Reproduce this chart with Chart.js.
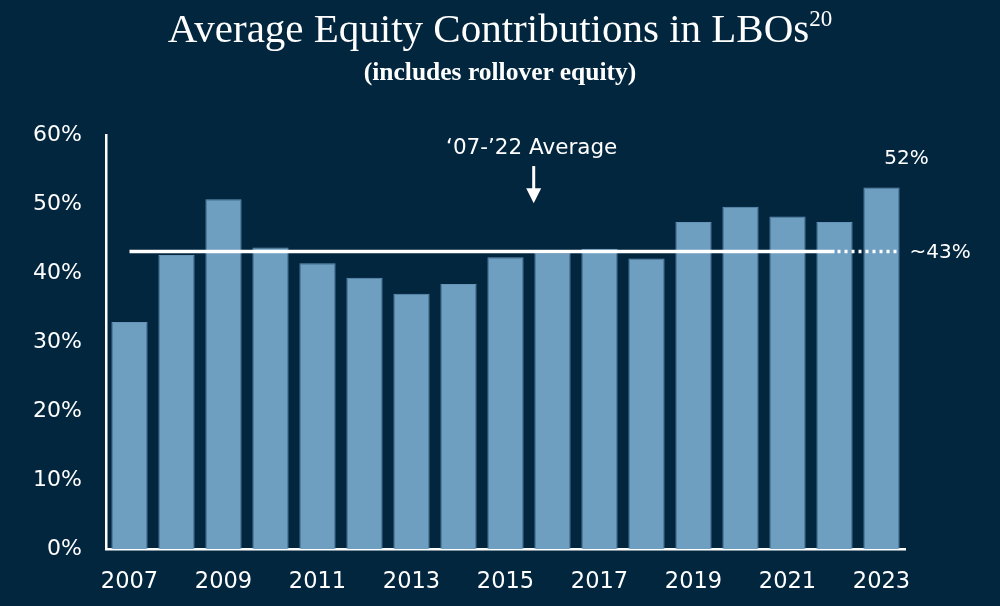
<!DOCTYPE html>
<html lang="en">
<head>
    <meta charset="UTF-8">
    <title>Average Equity Contributions in LBOs</title>
    <script src="https://cdn.jsdelivr.net/npm/chart.js@4.4.1/dist/chart.umd.min.js"></script>
    <style>
        html, body {
            margin: 0;
            padding: 0;
            background-color: #03263f;
        }
        #wrap {
            position: relative;
            width: 1000px;
            height: 606px;
        }
        #title {
            position: absolute;
            top: 4px;
            left: 0;
            width: 1000px;
            text-align: center;
            color: #ffffff;
            font-family: "Liberation Serif", serif;
            font-size: 41px;
        }
        #title sup {
            font-size: 23px;
            vertical-align: 16px;
            line-height: 0;
        }
        #subtitle {
            position: absolute;
            top: 57px;
            left: 0;
            width: 1000px;
            text-align: center;
            color: #ffffff;
            font-family: "Liberation Serif", serif;
            font-weight: bold;
            font-size: 25.5px;
        }
        #chart {
            position: absolute;
            top: 0;
            left: 0;
        }
    </style>
</head>
<body>
<div id="wrap">
    <canvas id="chart" width="1000" height="606"></canvas>
    <div id="title">Average Equity Contributions in LBOs<sup>20</sup></div>
    <div id="subtitle">(includes rollover equity)</div>
</div>

<script>
    // Data (percent)
    const years = ['2007', '2008', '2009', '2010', '2011', '2012', '2013', '2014', '2015',
                   '2016', '2017', '2018', '2019', '2020', '2021', '2022', '2023'];
    const equityShare = [32.9, 42.6, 50.7, 43.7, 41.4, 39.3, 37.0, 38.4, 42.3,
                         43.0, 43.5, 42.1, 47.4, 49.6, 48.2, 47.4, 52.4];
    const averageValue = 43.1;   // '07-'22 average
    const yTicks = [0, 10, 20, 30, 40, 50, 60];

    const barColor = '#6e9ec0';
    const white = '#ffffff';
    const labelFont = '"DejaVu Sans", sans-serif';

    // Average line, arrow and call-out labels
    const annotations = {
        id: 'annotations',
        afterDatasetsDraw(chart) {
            const ctx = chart.ctx;
            const x = chart.scales.x;
            const y = chart.scales.y;
            const yAvg = y.getPixelForValue(averageValue);
            const last = years.length - 1;
            const barHalf = (x.getPixelForValue(1) - x.getPixelForValue(0)) * 0.77 / 2;

            ctx.save();
            ctx.strokeStyle = white;
            ctx.lineWidth = 3.5;

            // solid part over '07-'22
            ctx.beginPath();
            ctx.moveTo(x.getPixelForValue(0), yAvg);
            ctx.lineTo(x.getPixelForValue(last - 1), yAvg);
            ctx.stroke();

            // dotted extension to 2023
            ctx.setLineDash([3, 4]);
            ctx.beginPath();
            ctx.moveTo(x.getPixelForValue(last - 1) + 3, yAvg);
            ctx.lineTo(x.getPixelForValue(last) + barHalf, yAvg);
            ctx.stroke();
            ctx.setLineDash([]);

            ctx.fillStyle = white;
            ctx.font = '20px ' + labelFont;
            ctx.textBaseline = 'middle';
            ctx.textAlign = 'left';
            ctx.fillText('~43%', x.getPixelForValue(last) + barHalf + 10, yAvg + 1);

            // value label for 2023
            ctx.textAlign = 'center';
            ctx.fillText(equityShare[last].toFixed(0) + '%', x.getPixelForValue(last) + 25,
                y.getPixelForValue(equityShare[last]) - 29);

            // "'07-'22 Average" with arrow
            const ax = x.getPixelForValue(8.6);
            ctx.font = '21.5px ' + labelFont;
            ctx.fillText('\u201807-\u201922 Average', ax - 2, y.getPixelForValue(58.0));
            ctx.lineWidth = 3;
            ctx.beginPath();
            ctx.moveTo(ax, y.getPixelForValue(55.5));
            ctx.lineTo(ax, y.getPixelForValue(52));
            ctx.stroke();
            ctx.beginPath();
            ctx.moveTo(ax - 7.5, y.getPixelForValue(52.3));
            ctx.lineTo(ax + 7.5, y.getPixelForValue(52.3));
            ctx.lineTo(ax, y.getPixelForValue(50.1));
            ctx.closePath();
            ctx.fill();
            ctx.restore();
        }
    };

    new Chart(document.getElementById('chart'), {
        type: 'bar',
        data: {
            labels: years,
            datasets: [{
                data: equityShare,
                backgroundColor: barColor,
                borderColor: '#6594b8',
                borderWidth: 1,
                barPercentage: 0.77,
                categoryPercentage: 1.0
            }]
        },
        options: {
            responsive: false,
            animation: false,
            layout: { padding: { top: 135, right: 95, left: 0, bottom: 0 } },
            plugins: {
                legend: { display: false },
                title: { display: false },
                tooltip: { enabled: false }
            },
            scales: {
                x: {
                    grid: { display: false, drawTicks: false },
                    border: { color: white, width: 2.5 },
                    afterFit(scale) { scale.height = 57; },
                    ticks: {
                        color: white,
                        autoSkip: false,
                        maxRotation: 0,
                        padding: 20,
                        font: { family: labelFont, size: 22.5 },
                        callback: (val, i) => (i % 2 === 0 ? years[i] : '')
                    }
                },
                y: {
                    min: 0,
                    max: 60,
                    afterFit(scale) { scale.width = 106; },
                    afterBuildTicks(scale) { scale.ticks = yTicks.map(v => ({ value: v })); },
                    grid: { display: false, drawTicks: false },
                    border: { color: white, width: 2.5 },
                    ticks: {
                        color: white,
                        padding: 24,
                        font: { family: labelFont, size: 22 },
                        callback: v => v + '%'
                    }
                }
            }
        },
        plugins: [annotations]
    });
</script>
</body>
</html>
